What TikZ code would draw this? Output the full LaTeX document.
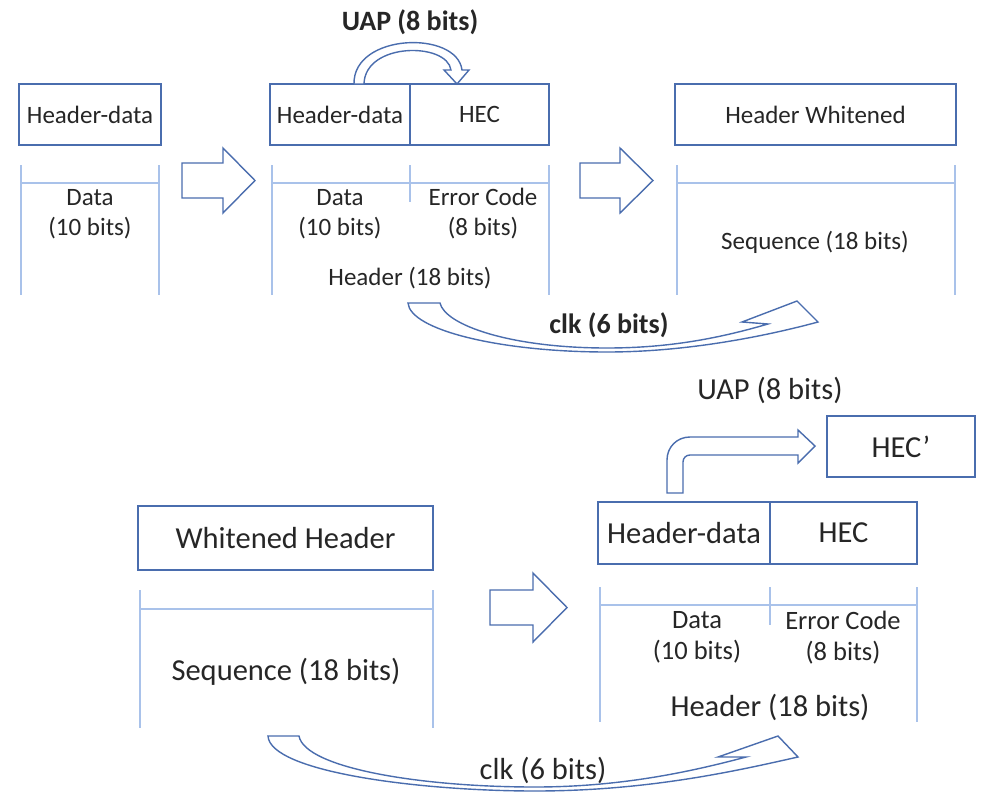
\documentclass[tikz,border=0pt]{standalone}
\usepackage{fontspec}
\setmainfont{Carlito}
\definecolor{boxblue}{HTML}{4A6DAE}
\definecolor{lightblue}{HTML}{A9C2EA}
\definecolor{txt}{HTML}{262626}
\begin{document}
\begin{tikzpicture}[x=1pt,y=-1pt,
  box/.style={draw=boxblue, line width=1.8pt, rectangle, inner sep=0pt, text=txt},
  thinline/.style={draw=lightblue, line width=1.6pt},
  blk/.style={draw=boxblue, line width=1.4pt, fill=white, line join=miter},
  ts/.style={text=txt, font=\fontsize{25}{30}\selectfont, align=center, inner sep=0pt},
  tb/.style={text=txt, font=\fontsize{28}{32}\selectfont\bfseries, align=center, inner sep=0pt},
  tl/.style={text=txt, font=\fontsize{30.5}{31}\selectfont, align=center, inner sep=0pt},
  tm/.style={text=txt, font=\fontsize{26.5}{31}\selectfont, align=center, inner sep=0pt}]
\useasboundingbox (0,0) rectangle (986,793);

% ---------- top row ----------
\node[box, ts, minimum width=142pt, minimum height=61pt] (hd1) at (90,114.5) {Header-data};
\draw[thinline] (21,165) -- (21,295) (159,165) -- (159,295) (21,183) -- (159,183);
\node[ts] (d1) at (90,214) {Data\\(10 bits)};

\draw[blk] (182,163) -- (223,163) -- (223,148) -- (255,180.5) -- (223,213) -- (223,198) -- (182,198) -- cycle;

\node[box, ts, minimum width=140pt, minimum height=61pt] (hd2) at (340,114.5) {Header-data};
\node[box, ts, minimum width=139pt, minimum height=61pt] (hec2) at (479.5,114.5) {HEC};
\draw[thinline] (272,165) -- (272,295) (549,165) -- (549,295) (410,165) -- (410,202) (272,183) -- (549,183);
\node[ts] (d2) at (340,214) {Data\\(10 bits)};
\node[ts] (e2) at (483,214) {Error Code\\(8 bits)};
\node[ts] (h2) at (410,278) {Header (18 bits)};

\node[tb] (uap1) at (410,22) {UAP (8 bits)};
\draw[blk] (354,84) .. controls (353,33) and (457,30) .. (462,70) -- (469,70) -- (457,84) -- (444,70) -- (451,70) .. controls (447,42) and (365,42) .. (364,84) -- cycle;

\draw[blk] (580,163) -- (620,163) -- (620,148) -- (653,180.5) -- (620,213) -- (620,198) -- (580,198) -- cycle;

\node[box, ts, minimum width=281pt, minimum height=61pt] (hw) at (815.5,114.5) {Header Whitened};
\draw[thinline] (677,165) -- (677,295) (955,165) -- (955,295) (677,183) -- (955,183);
\node[ts] (seq1) at (815,242) {Sequence (18 bits)};

\draw[blk] (408,303) .. controls (410,330) and (500,352) .. (607,352) .. controls (690,352) and (770,335) .. (818,322) -- (797,301) -- (742,322) -- (768,324) .. controls (720,338) and (670,348) .. (607,348) .. controls (510,348) and (445,325) .. (440,303) -- cycle;
\node[tb] (clk1) at (609,325) {clk (6 bits)};

% ---------- bottom row ----------
\node[box, tl, minimum width=295pt, minimum height=64pt] (wh) at (285.5,538) {Whitened Header};
\draw[thinline] (140,590) -- (140,728) (433,590) -- (433,728) (140,609) -- (433,609);
\node[tl] (seq2) at (286,672) {Sequence (18 bits)};

\draw[blk] (490,590) -- (533,590) -- (533,573) -- (567,607.5) -- (533,642) -- (533,625) -- (490,625) -- cycle;

\node[tl] (uap2) at (770,390) {UAP (8 bits)};
\node[box, tl, minimum width=148pt, minimum height=61pt] (hecp) at (901,446.5) {HEC’};
\draw[blk] (667,493) -- (667,460) .. controls (667,447) and (677,437) .. (690,437) -- (798,437) -- (798,430) -- (815,446) -- (798,463) -- (798,455) -- (690,455) .. controls (686,455) and (683,458) .. (683,462) -- (683,493) -- cycle;

\node[box, tl, minimum width=172pt, minimum height=62pt] (hd4) at (684,533) {Header-data};
\node[box, tl, minimum width=147pt, minimum height=62pt] (hec4) at (843.5,533) {HEC};
\draw[thinline] (600,587) -- (600,722) (917,587) -- (917,722) (770,587) -- (770,625) (600,605) -- (917,605);
\node[tm] (d4) at (697,637.5) {Data\\(10 bits)};
\node[tm] (e4) at (843,637.5) {Error Code\\(8 bits)};
\node[tl] (h4) at (770,707) {Header (18 bits)};

\draw[blk] (268,736) .. controls (270,772) and (420,791) .. (535,791) .. controls (650,791) and (740,770) .. (798,757) -- (778,736) -- (718,757) -- (746,757) .. controls (690,772) and (620,787) .. (535,787) .. controls (420,787) and (305,768) .. (299,736) -- cycle;
\node[tl] (clk2) at (543,770) {clk (6 bits)};
\end{tikzpicture}
\end{document}
